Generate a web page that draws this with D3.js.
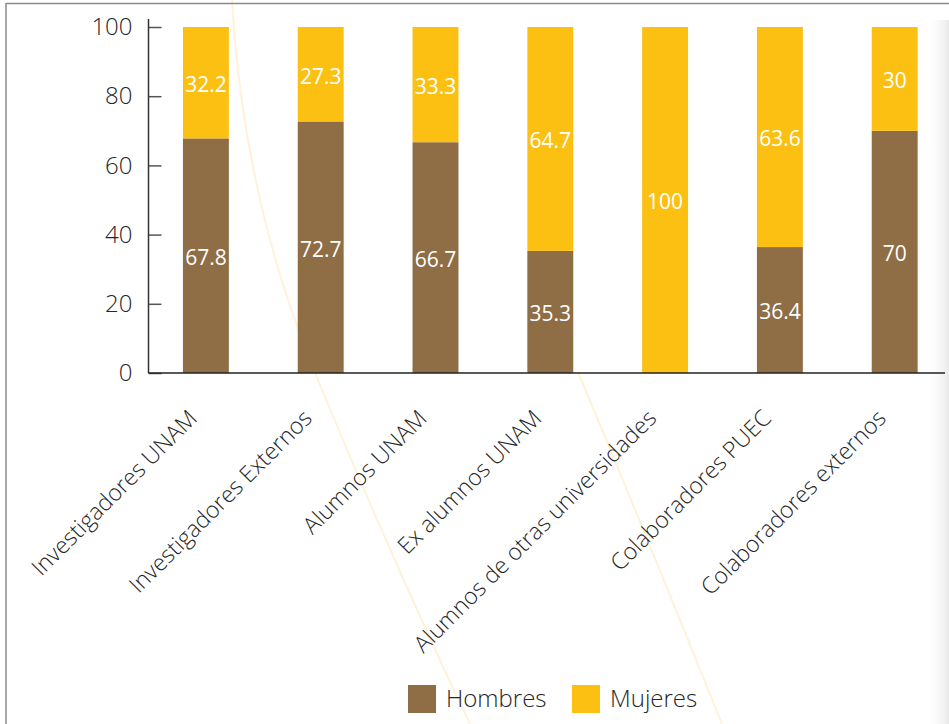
<!DOCTYPE html>
<html>
<head>
<meta charset="utf-8">
<script src="https://cdn.jsdelivr.net/npm/d3@7/dist/d3.min.js"></script>
<style>
  html, body { margin: 0; padding: 0; background: #fff; }
  svg { display: block; }
</style>
</head>
<body>
<svg id="chart" width="949" height="724"></svg>
<script>
const categories = ["Investigadores UNAM", "Investigadores Externos", "Alumnos UNAM", "Ex alumnos UNAM", "Alumnos de otras universidades", "Colaboradores PUEC", "Colaboradores externos"];
const hombres = [67.8, 72.7, 66.7, 35.3, 0, 36.4, 70];
const mujeres = [32.2, 27.3, 33.3, 64.7, 100, 63.6, 30];
const seriesNames = ["Hombres", "Mujeres"];
const seriesColors = ["#8F6D45", "#FCC013"];
const yTicks = [0, 20, 40, 60, 80, 100];

const svg = d3.select("#chart");
const W = 949, H = 724;
const mLeft = 148.5, mTop = 27, mBottom = 373;
const step = 114.8;
const FONT = "'Open Sans', sans-serif";
const TXT = "#262626";

// decorative background curves
const deco = svg.append("g").attr("fill", "none").attr("stroke", "#FEF3DA").attr("stroke-width", 2);
deco.append("path").attr("d", "M232,0 C240,140 270,260 310,360 S420,620 470,724");
deco.append("path").attr("d", "M578,372 Q640,520 722,724");
// right-side scan shading
const grad = svg.append("defs").append("linearGradient").attr("id", "sh").attr("x1", 0).attr("x2", 1);
grad.append("stop").attr("offset", 0).attr("stop-color", "#fff").attr("stop-opacity", 0);
grad.append("stop").attr("offset", 1).attr("stop-color", "#e9e9e9").attr("stop-opacity", 1);
svg.append("rect").attr("x", 925).attr("y", 20).attr("width", 24).attr("height", 704).attr("fill", "url(#sh)");

// frame
svg.append("line").attr("x1", 6).attr("x2", W).attr("y1", 3.5).attr("y2", 3.5).attr("stroke", "#8a8a8a").attr("stroke-width", 1.5);
svg.append("line").attr("x1", 6).attr("x2", 6).attr("y1", 3).attr("y2", H).attr("stroke", "#8a8a8a").attr("stroke-width", 1.5);

const x = d3.scaleBand().domain(categories).range([mLeft, mLeft + step * categories.length]).paddingInner(0.6).paddingOuter(0.3);
const y = d3.scaleLinear().domain([0, 100]).range([mBottom, mTop]);

const data = categories.map((c, i) => ({cat: c, Hombres: hombres[i], Mujeres: mujeres[i]}));
const stack = d3.stack().keys(seriesNames)(data);

const g = svg.append("g");
stack.forEach((layer, li) => {
  g.selectAll(null).data(layer).enter().append("rect")
    .attr("x", d => x(d.data.cat))
    .attr("width", x.bandwidth())
    .attr("y", d => y(d[1]))
    .attr("height", d => y(d[0]) - y(d[1]))
    .attr("fill", seriesColors[li]);
  g.selectAll(null).data(layer.filter(d => d[1] - d[0] > 0)).enter().append("text")
    .attr("x", d => x(d.data.cat) + x.bandwidth() / 2)
    .attr("y", d => (y(d[0]) + y(d[1])) / 2)
    .attr("dy", "0.45em")
    .attr("text-anchor", "middle")
    .attr("fill", "#fff")
    .attr("font-family", FONT)
    .attr("font-size", 21)
    .text(d => d3.format("~")(+(d[1] - d[0]).toFixed(1)));
});

// y axis
const yAxis = d3.axisLeft(y).tickValues(yTicks).tickSize(-13).tickPadding(16);
const ya = svg.append("g").attr("transform", `translate(${mLeft},0)`).call(yAxis);
ya.select(".domain").remove();
ya.selectAll(".tick line").attr("stroke", "#555").attr("stroke-width", 1.5);
ya.selectAll(".tick text").attr("fill", TXT).attr("font-family", FONT).attr("font-weight", 300).attr("font-size", 24);
svg.append("line").attr("x1", mLeft).attr("x2", mLeft).attr("y1", 19).attr("y2", mBottom).attr("stroke", "#333").attr("stroke-width", 1.5);

// x axis
svg.append("line").attr("x1", mLeft).attr("x2", 945).attr("y1", mBottom).attr("y2", mBottom).attr("stroke", "#222").attr("stroke-width", 1.5);
const xa = svg.append("g").attr("transform", `translate(0,${mBottom})`).call(d3.axisBottom(x).tickSize(0));
xa.select(".domain").remove();
xa.selectAll(".tick text")
  .attr("text-anchor", "end")
  .attr("fill", TXT)
  .attr("font-family", FONT)
  .attr("font-weight", 300)
  .attr("font-size", 23)
  .attr("y", 0).attr("dy", "0.35em")
  .attr("transform", "translate(-13,41) rotate(-45)");

// legend
const leg = svg.append("g");
const legX = [408, 572];
seriesNames.forEach((s, i) => {
  leg.append("rect").attr("x", legX[i]).attr("y", 685).attr("width", 28).attr("height", 28).attr("fill", seriesColors[i]);
  leg.append("text").attr("x", legX[i] + 38).attr("y", 699).attr("dy", "0.35em")
    .attr("fill", TXT).attr("font-family", FONT).attr("font-weight", 300).attr("font-size", 24).text(s);
});
</script>
</body>
</html>
